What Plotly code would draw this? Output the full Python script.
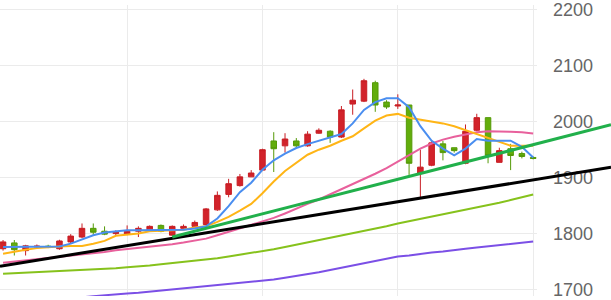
import plotly.graph_objects as go

# ---- data ----
idx = list(range(48))
opens  = [1772.9, 1783.3, 1769.5, 1776.0, 1777.5, 1772.9, 1785.1, 1793.8, 1809.4, 1804.2,
          1800.0, 1799.0, 1804.2, 1806.3, 1814.6, 1797.2, 1809.4, 1812.9, 1816.3, 1842.4,
          1870.1, 1885.8, 1901.4, 1913.5, 1965.6, 1956.9, 1965.6, 1956.9, 1979.5, 1983.0,
          1972.6, 2031.6, 2036.8, 2069.8, 2035.1, 2028.1, 2029.9, 1908.3, 1922.2, 1960.4,
          1953.5, 1925.7, 1984.7, 2007.3, 1927.4, 1951.7, 1943.1, 1936.1]
highs  = [1788.5, 1788.5, 1779.9, 1780.5, 1780.0, 1789.0, 1799.0, 1818.1, 1818.1, 1812.9,
          1806.0, 1814.6, 1812.9, 1814.6, 1816.3, 1814.6, 1816.3, 1823.3, 1845.8, 1875.4,
          1897.9, 1906.6, 1913.5, 1951.7, 1981.3, 1979.5, 1970.8, 1983.0, 1988.2, 1984.7,
          2028.1, 2057.6, 2076.7, 2073.3, 2038.5, 2049.0, 2029.9, 1950.0, 1967.4, 1965.6,
          1953.5, 1995.1, 2014.2, 2007.3, 1953.5, 1960.4, 1946.5, 1937.8]
lows   = [1769.5, 1760.8, 1760.8, 1773.0, 1774.0, 1771.0, 1781.6, 1792.0, 1797.2, 1797.2,
          1797.0, 1797.2, 1793.8, 1804.2, 1802.4, 1795.5, 1807.6, 1808.3, 1814.6, 1840.6,
          1864.9, 1884.0, 1901.4, 1911.8, 1910.1, 1944.8, 1951.7, 1955.2, 1978.6, 1962.2,
          1970.8, 2012.5, 2035.1, 2017.7, 2022.9, 2022.9, 1904.9, 1864.9, 1920.5, 1930.9,
          1944.8, 1924.0, 1983.0, 1925.7, 1927.4, 1913.5, 1934.4, 1932.6]
closes = [1785.1, 1771.2, 1778.1, 1777.5, 1776.5, 1786.8, 1795.5, 1809.4, 1802.4, 1799.0,
          1803.0, 1804.2, 1809.4, 1812.9, 1804.2, 1812.9, 1812.9, 1819.9, 1844.1, 1868.4,
          1889.2, 1901.4, 1908.3, 1950.0, 1951.7, 1969.1, 1956.9, 1977.8, 1984.7, 1972.6,
          2021.2, 2038.5, 2073.3, 2029.9, 2026.4, 2029.9, 1925.7, 1918.8, 1962.2, 1944.8,
          1948.3, 1983.0, 2007.3, 1939.6, 1948.3, 1939.6, 1937.8, 1934.4]

ma5  = [1776, 1776, 1776, 1776, 1776, 1777, 1782, 1790, 1797, 1802,
        1804, 1806, 1806, 1806, 1806, 1806, 1807, 1809, 1813, 1827,
        1849, 1874, 1891, 1914, 1931, 1943, 1953, 1960, 1966, 1971,
        1978, 1997, 2021, 2035, 2042, 2042, 2026, 1992, 1966, 1952,
        1940, 1952, 1969, 1966, 1966, 1966, 1955, 1936]
ma10 = [1764, 1768, 1771, 1774, 1776, 1777, 1778, 1778, 1782, 1787,
        1796, 1798, 1800, 1804, 1805, 1806, 1807, 1811, 1813, 1821,
        1830, 1841, 1853, 1872, 1893, 1912, 1927, 1941, 1950, 1957,
        1966, 1974, 1988, 2002, 2011, 2014, 2007, 2004, 2000, 1997,
        1992, 1985, 1979, 1971, 1964, 1957, 1957, 1957]
ma20 = [1748, 1750, 1752, 1754, 1756, 1758, 1760, 1762, 1765, 1767,
        1770, 1772, 1775, 1777, 1779, 1781, 1784, 1787, 1791, 1797,
        1803, 1809, 1815, 1821, 1828, 1836, 1845, 1853, 1861, 1870,
        1879, 1888, 1897, 1907, 1917, 1929, 1941, 1952, 1961, 1968,
        1973, 1977, 1981, 1983, 1983, 1982, 1981, 1979]
ma60 = [1728, 1729, 1730, 1731, 1731, 1733, 1734, 1735, 1736, 1737,
        1738, 1740, 1741, 1743, 1745, 1747, 1749, 1751, 1754, 1756,
        1759, 1762, 1765, 1768, 1772, 1776, 1780, 1784, 1788, 1793,
        1797, 1801, 1805, 1809, 1813, 1818, 1822, 1826, 1831, 1835,
        1839, 1843, 1847, 1851, 1855, 1860, 1865, 1870]
ma120 = [1666, 1669, 1672, 1675, 1678, 1681, 1684, 1686, 1688, 1690,
         1691, 1693, 1694, 1696, 1698, 1699, 1701, 1703, 1705, 1707,
         1709, 1711, 1714, 1716, 1718, 1721, 1724, 1727, 1731, 1735,
         1739, 1743, 1747, 1752, 1756, 1759, 1761, 1764, 1766, 1768,
         1771, 1773, 1775, 1777, 1779, 1782, 1784, 1786]

# trend lines: two anchor points (index, price) each
black_trend = [(0, 1742.5), (47, 1896.0)]
green_trend = [(15, 1794.0), (47, 1959.0)]

y_ticks = [1700, 1800, 1900, 2000, 2100, 2200]

# ---- layout geometry ----
W, H = 611, 300
plot_w = 537
x_range = [-0.27, 47.34]
y_range = [1688.4, 2208.7]

fig = go.Figure()
fig.add_trace(go.Candlestick(
    x=idx, open=opens, high=highs, low=lows, close=closes,
    increasing=dict(line=dict(color="#c81e24", width=1), fillcolor="#d2232b"),
    decreasing=dict(line=dict(color="#559a08", width=1), fillcolor="#62ad0c"),
    whiskerwidth=0, showlegend=False, hoverinfo="skip"))

for vals, col in [(ma120, "#7b4fe6"), (ma60, "#86c21c"), (ma20, "#e8609c"),
                  (ma10, "#ffb516"), (ma5, "#4a8ef0")]:
    fig.add_trace(go.Scatter(x=idx, y=vals, mode="lines",
                             line=dict(color=col, width=2),
                             showlegend=False, hoverinfo="skip"))

def to_paper(i, p):
    return ((i - x_range[0]) / (x_range[1] - x_range[0]),
            (p - y_range[0]) / (y_range[1] - y_range[0]))

x_end_paper = W / plot_w
for (a, b), col, start_at_edge in [(black_trend, "#000000", True),
                                   (green_trend, "#21b04b", False)]:
    (i0, p0), (i1, p1) = a, b
    slope = (p1 - p0) / (i1 - i0)
    i_end = x_range[0] + x_end_paper * (x_range[1] - x_range[0])
    i_start = x_range[0] if start_at_edge else i0
    xs, ys = to_paper(i_start, p0 + slope * (i_start - i0))
    xe, ye = to_paper(i_end, p0 + slope * (i_end - i0))
    fig.add_shape(type="line", xref="paper", yref="paper",
                  x0=xs, y0=ys, x1=xe, y1=ye,
                  line=dict(color=col, width=3), layer="above")

fig.update_layout(
    width=W, height=H,
    margin=dict(l=0, r=W - plot_w, t=0, b=0),
    paper_bgcolor="white", plot_bgcolor="white",
    boxgap=0.3,
    xaxis=dict(range=x_range, rangeslider=dict(visible=False),
               showticklabels=False, showgrid=True, gridcolor="#ebebeb",
               tick0=11, dtick=12, zeroline=False, showline=False, fixedrange=True),
    yaxis=dict(range=y_range, side="right", tickvals=y_ticks,
               ticktext=[str(v) for v in y_ticks],
               showgrid=True, gridcolor="#ebebeb", zeroline=False, showline=False,
               tickfont=dict(family="Liberation Sans, Arial", size=18, color="#666666"),
               ticks="", ticklabelstandoff=15, ticklabeloverflow="allow",
               fixedrange=True),
)

fig.write_html("out.html")
